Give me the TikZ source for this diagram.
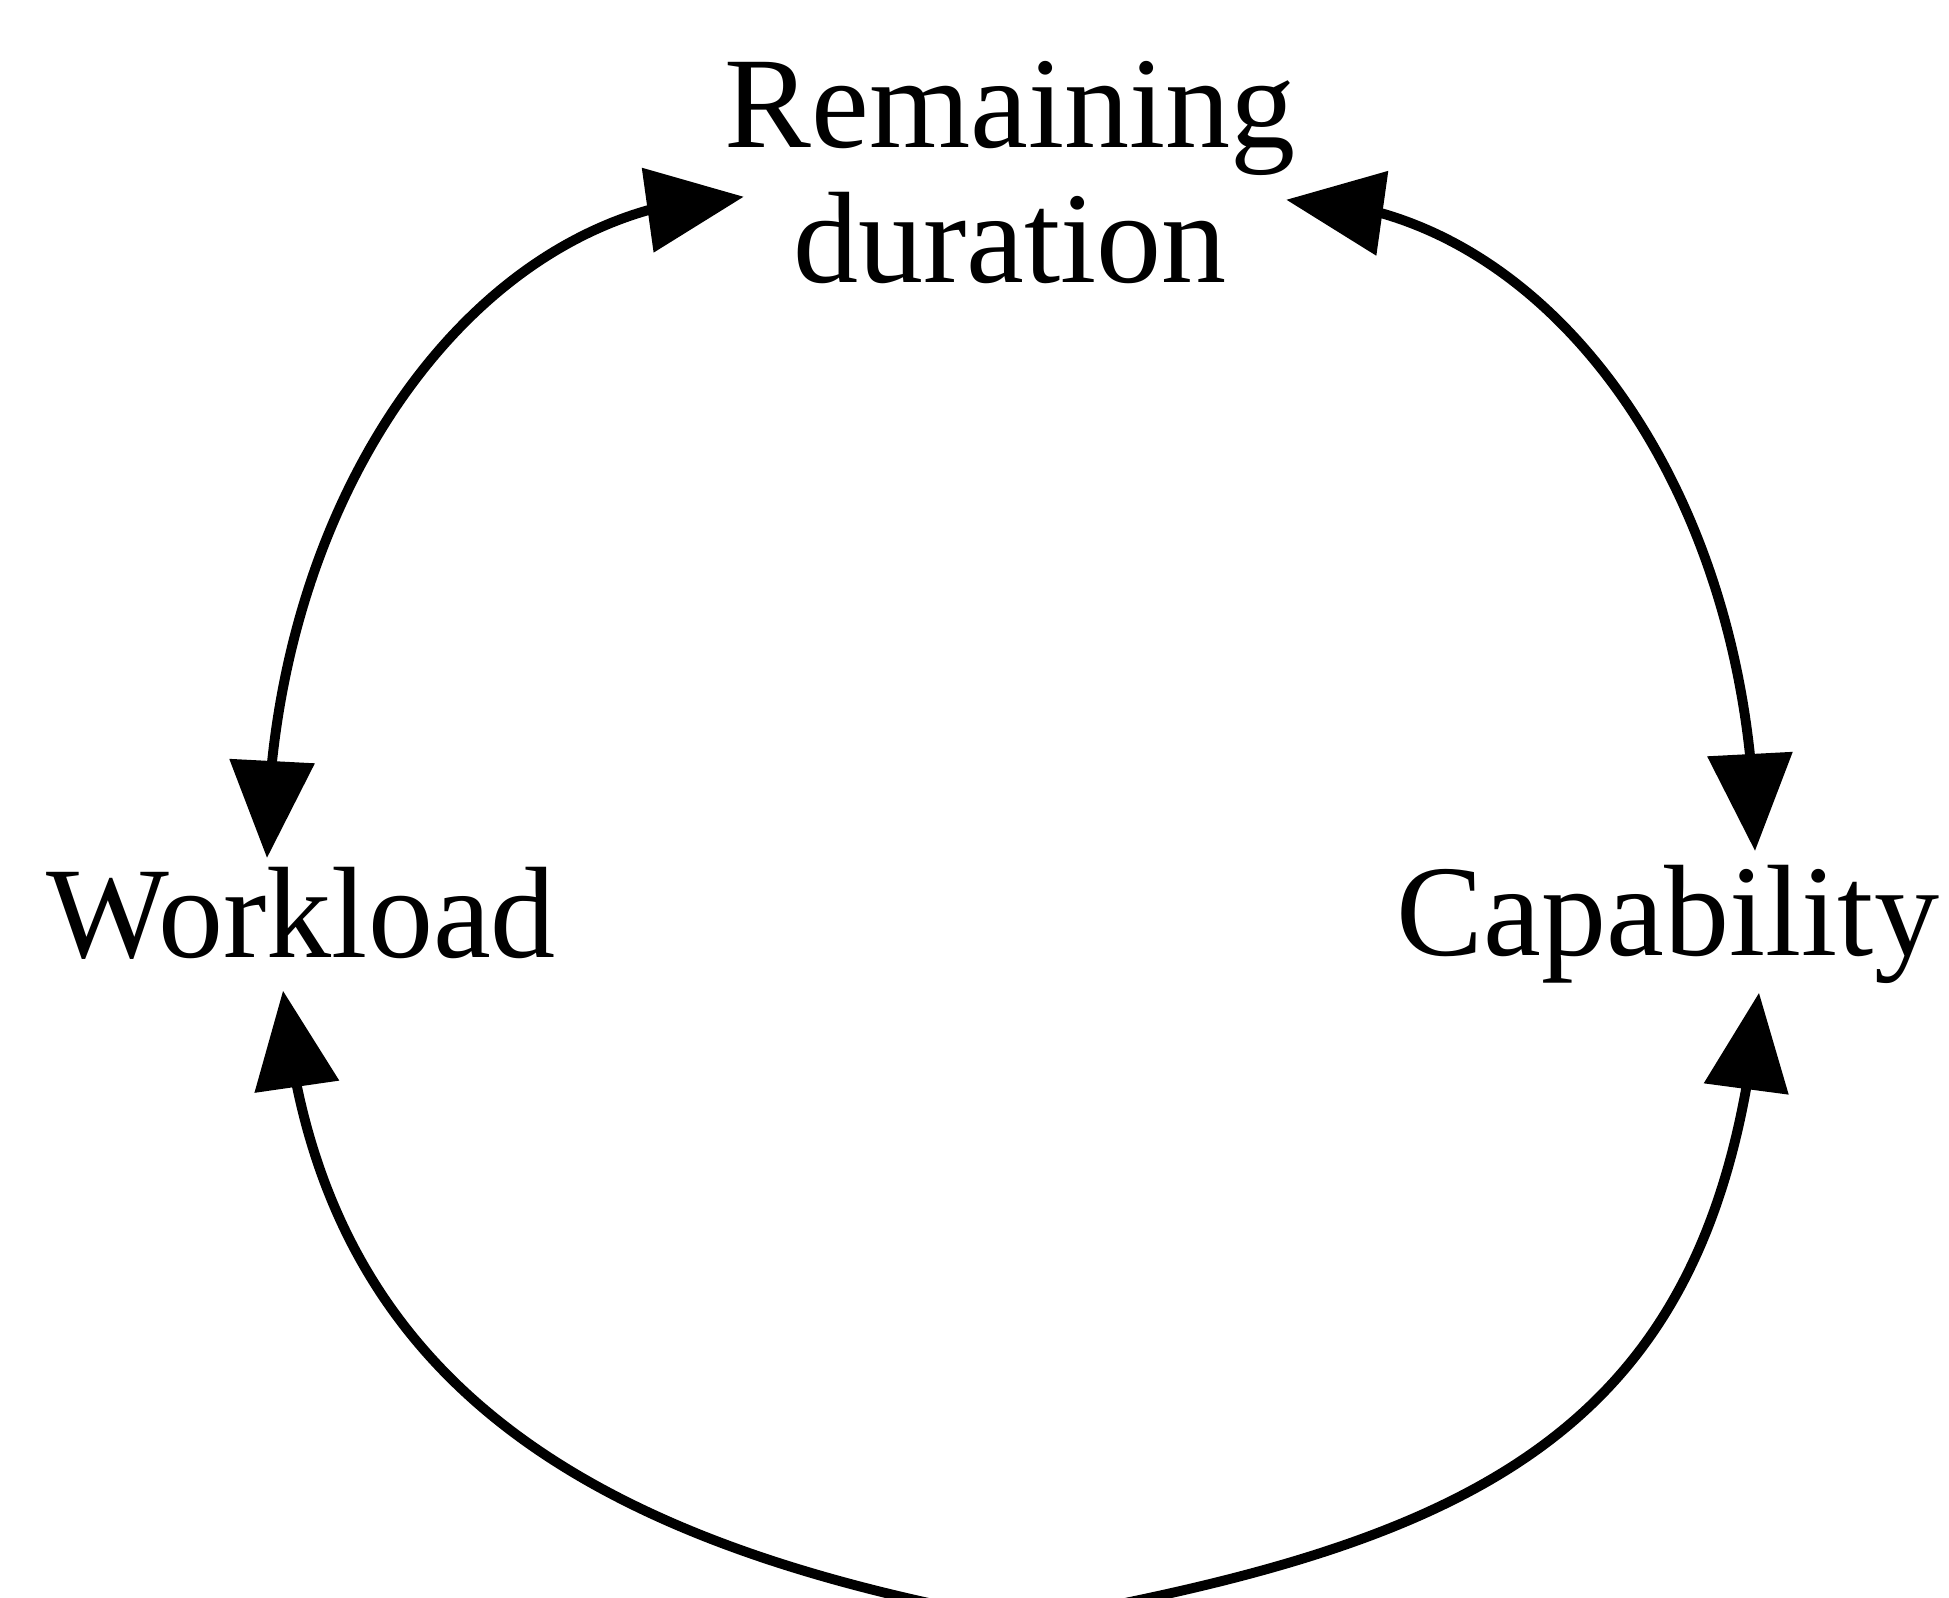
\documentclass[tikz,border=0pt]{standalone}
\usepackage{fontspec}
\setmainfont{Liberation Serif}
\usetikzlibrary{arrows.meta,bending}

\begin{document}
\begin{tikzpicture}[x=0.01cm,y=0.01cm,>={Triangle[length=0.97cm,width=0.83cm]}]
\tikzset{
factor/.style = {inner sep=0pt, align=center, font=\fontsize{37}{38.3}\selectfont},
link/.style = {<->, line width=2.8pt},
feed/.style = {->, line width=2.8pt}
}
\useasboundingbox (0,0) rectangle (1949,1597);

\node [factor, anchor=north](remain) at (1010,1536) {Remaining\\duration};
\node [factor, anchor=base](work) at (301,639) {Workload};
\node [factor, anchor=base](capab) at (1668,641) {Capability};
\coordinate (src) at (1025,-25);

\draw [link] ([shift={(-34,9)}]work.north) .. controls +(0,365) and +(-262,0) .. ([shift={(20,-24)}]remain.west);
\draw [link] ([shift={(-10,-27)}]remain.east) .. controls +(258,0) and +(0,361) .. ([shift={(87,14)}]capab.north);
\draw [feed] (src) .. controls +(-443,78) and +(34,-388) .. ([shift={(-18,-30)}]work.south);
\draw [feed] (src) .. controls +(470,83) and +(-40,-430) .. ([shift={(91,-8)}]capab.south);
\end{tikzpicture}
\end{document}
